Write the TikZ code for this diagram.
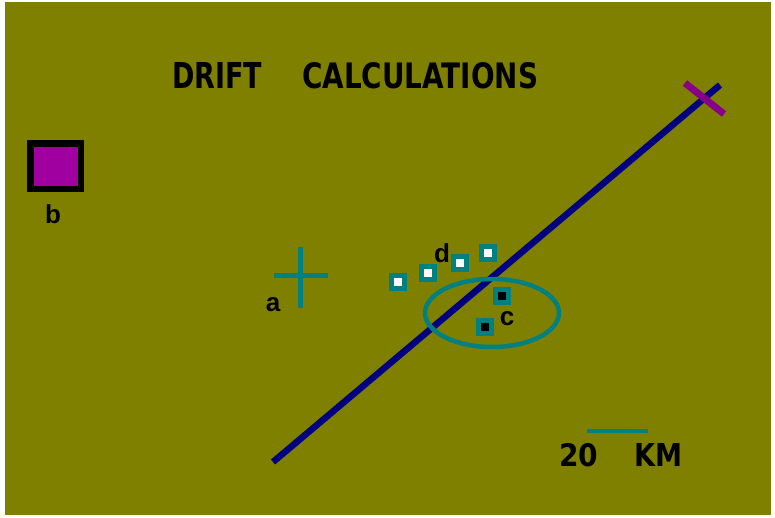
\documentclass[tikz,border=0pt]{standalone}
\usepackage{fontspec}
\setmainfont{Liberation Sans}
\newfontfamily\blockfont{DejaVu Sans}
\usepackage{graphicx}
\definecolor{olivebg}{HTML}{808000}
\definecolor{tealc}{HTML}{008080}
\definecolor{navyc}{HTML}{000080}
\definecolor{purplec}{HTML}{A000A0}
\tikzset{
  lbl/.style={font=\fontsize{26}{26}\selectfont\bfseries, text=black, inner sep=0pt},
  blk/.style={inner sep=0pt, text=black, anchor=north west},
  marker/.style={draw=tealc, fill=white, line width=4.5pt, minimum size=13pt, inner sep=0pt},
  markerc/.style={draw=tealc, fill=black, line width=4.5pt, minimum size=13pt, inner sep=0pt},
}
\begin{document}
\begin{tikzpicture}[x=1pt,y=-1pt]
\useasboundingbox (0,0) rectangle (775,518);
\fill[white] (0,0) rectangle (775,518);
\fill[olivebg] (5,2) rectangle (771,515);
% title
\node[blk] (title1) at (172,62) {\resizebox{90pt}{26pt}{\blockfont\bfseries DRIFT}};
\node[blk] (title2) at (302,62) {\resizebox{236pt}{26pt}{\blockfont\bfseries CALCULATIONS}};
% purple box
\fill[black] (27,140) rectangle (84,192);
\fill[purplec] (34,147) rectangle (78,186);
\node[lbl] (b) at (53,214) {b};
% cross a
\coordinate (aT) at (300,247);
\coordinate (aB) at (300,308);
\coordinate (aL) at (274,275);
\coordinate (aR) at (328,275);
\draw[tealc, line width=5pt] (aT) -- (aB);
\draw[tealc, line width=5pt] (aL) -- (aR);
\node[lbl] (a) at (273,305) {a};
% drift line
\coordinate (L1) at (273,462);
\coordinate (L2) at (720,85);
\draw[navyc, line width=6.5pt] (L1) -- (L2);
% purple mark
\coordinate (P1) at (685,83);
\coordinate (P2) at (724,114);
\draw[purplec!85!black, line width=7pt] (P1) -- (P2);
% ellipse
\draw[tealc, line width=4.5pt] (492,313) ellipse [x radius=67, y radius=34];
% markers
\node[marker] (m1) at (398,282) {};
\node[marker] (m2) at (428,273) {};
\node[marker] (m3) at (460,263) {};
\node[marker] (m4) at (488,253) {};
\node[markerc] (m5) at (502,296) {};
\node[markerc] (m6) at (485,327) {};
\node[lbl] (d) at (442,253) {d};
\node[lbl] (c) at (507,319) {c};
% scale bar
\coordinate (s1) at (587,431);
\coordinate (s2) at (648,431);
\draw[tealc, line width=4.5pt] (s1) -- (s2);
\node[blk] (twenty) at (559,443) {\resizebox{39pt}{23pt}{\blockfont\bfseries 20}};
\node[blk] (km) at (634,443) {\resizebox{48pt}{23pt}{\blockfont\bfseries KM}};
\end{tikzpicture}
\end{document}
